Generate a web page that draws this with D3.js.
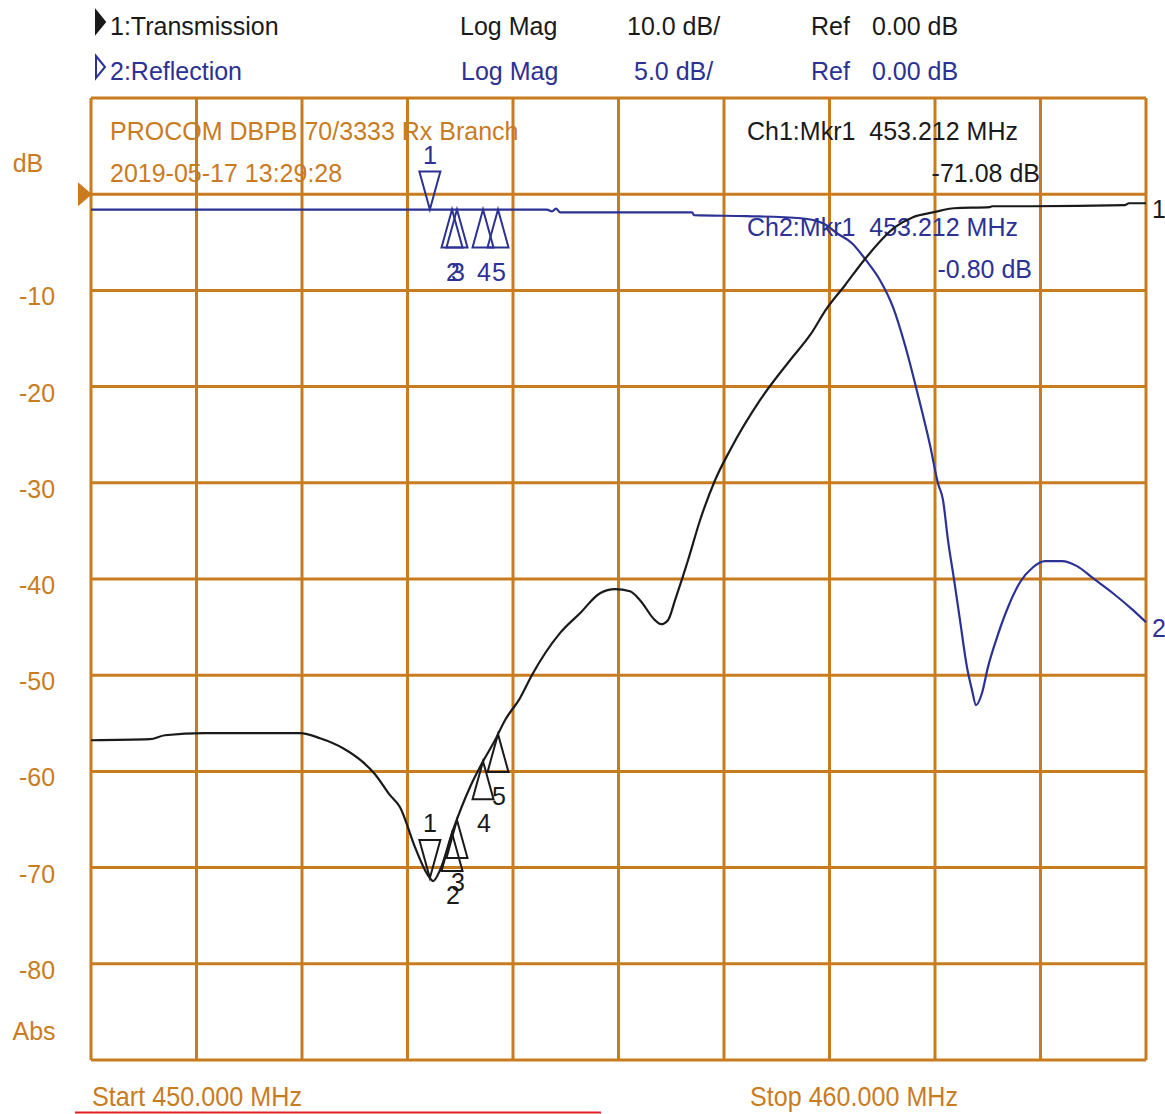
<!DOCTYPE html>
<html>
<head>
<meta charset="utf-8">
<script src="https://cdn.jsdelivr.net/npm/d3@7"></script>
<style>
  html, body { margin: 0; padding: 0; background: #fff; }
  svg text { font-family: "Liberation Sans", Arial, sans-serif; }
</style>
</head>
<body>
<div id="chart"></div>
<script>
// frequency sweep, MHz
const START_FREQ = 450;
const STOP_FREQ = 460;
const freqTicks = d3.range(450, 460.001, 1);

// channel 1: transmission, 10 dB/div, ref 0 dB
const transFreq = [450.000, 450.559, 450.701, 451.081, 451.981, 452.171, 452.389, 452.578, 452.692, 452.834,
  452.929, 453.071, 453.166, 453.212, 453.242, 453.308, 453.431, 453.592, 453.706, 453.829,
  453.924, 454.066, 454.180, 454.445, 454.635, 454.825, 454.967, 455.109, 455.204, 455.346,
  455.403, 455.469, 455.536, 455.602, 455.659, 455.773, 455.915, 456.057, 456.341, 456.626,
  456.815, 456.976, 457.147, 457.327, 457.621, 457.791, 457.991, 458.180, 458.521, 458.540,
  458.919, 459.801, 459.839, 460.000];
const transDb = [-56.76, -56.65, -56.24, -56.03, -56.03, -56.55, -57.59, -59.04, -60.29, -62.47,
  -63.72, -67.88, -70.27, -71.08, -71.40, -70.27, -66.11, -61.64, -59.15, -56.76,
  -54.68, -52.39, -49.98, -45.63, -43.56, -41.48, -41.06, -41.27, -42.20, -44.28,
  -44.70, -44.28, -42.20, -40.02, -38.05, -33.89, -29.73, -26.61, -21.41, -17.26,
  -14.66, -11.85, -9.46, -6.86, -3.43, -2.39, -1.87, -1.46, -1.35, -1.25,
  -1.25, -1.14, -0.94, -0.94];

// channel 2: reflection, 5 dB/div, ref 0 dB
const reflFreq = [450.000, 454.322, 454.370, 454.408, 454.445, 455.697, 455.716, 456.218, 456.730, 456.938,
  457.071, 457.213, 457.346, 457.479, 457.602, 457.716, 457.839, 457.953, 458.028, 458.076,
  458.123, 458.180, 458.237, 458.303, 458.351, 458.389, 458.445, 458.502, 458.588, 458.692,
  458.806, 458.929, 459.043, 459.204, 459.346, 459.498, 459.687, 459.877, 460.000];
const reflDb = [-0.80, -0.80, -0.90, -0.75, -0.94, -0.94, -1.09, -1.14, -1.25, -1.51,
  -2.03, -2.55, -3.43, -4.47, -5.87, -7.85, -10.45, -13.05, -15.02, -15.90,
  -17.98, -20.01, -22.14, -24.58, -25.78, -26.56, -25.94, -24.58, -23.03, -21.47,
  -20.17, -19.39, -19.07, -19.07, -19.33, -19.96, -20.74, -21.62, -22.25];

// markers (same frequencies on both channels)
const markerIds = ["1", "2", "3", "4", "5"];
const markerFreq = [453.212, 453.422, 453.469, 453.716, 453.858];

// y axis labels (channel 1 scale)
const dbTicks = [-10, -20, -30, -40, -50, -60, -70, -80];

const WIDTH = 1165;
const HEIGHT = 1114;
const PLOT = { LEFT: 91, RIGHT: 1146, TOP: 98, BOTTOM: 1060 };
const ORANGE = "#c97c1f";
const BLUE = "#2c3194";
const BLACK = "#1a1a1a";
const TRI_W = 21;
const TRI_H = 38;

const x = d3.scaleLinear().domain([START_FREQ, STOP_FREQ]).range([PLOT.LEFT, PLOT.RIGHT]);
const yTrans = d3.scaleLinear().domain([-90, 10]).range([PLOT.BOTTOM, PLOT.TOP]);
const yRefl = d3.scaleLinear().domain([-45, 5]).range([PLOT.BOTTOM, PLOT.TOP]);

/**
 * Linear read-out of a trace at a given frequency (like the analyser marker)
 */
function readTrace(freqs, values, f) {
  return d3.scaleLinear().domain(freqs).range(values).clamp(true)(f);
}

const svg = d3.select("#chart").append("svg").attr("width", WIDTH).attr("height", HEIGHT);

/**
 * Header lines with the channel setup
 */
function addHeader() {
  const rows = [
    { y: 35, color: BLACK, filled: true, cells: [[110, "1:Transmission"], [460, "Log Mag"], [627, "10.0 dB/"], [811, "Ref"], [872, "0.00 dB"]] },
    { y: 80, color: BLUE, filled: false, cells: [[110, "2:Reflection"], [461, "Log Mag"], [634, "5.0 dB/"], [811, "Ref"], [872, "0.00 dB"]] },
  ];
  rows.forEach((row) => {
    const g = svg.append("g");
    g.append("path")
      .attr("d", `M96,${row.y - 24} L105,${row.y - 13} L96,${row.y - 2} Z`)
      .attr("fill", row.filled ? row.color : "none")
      .attr("stroke", row.color)
      .attr("stroke-width", 2);
    g.selectAll("text")
      .data(row.cells)
      .enter()
      .append("text")
      .attr("x", (d) => d[0])
      .attr("y", row.y)
      .attr("fill", row.color)
      .attr("font-size", 25)
      .text((d) => d[1]);
  });
}

/**
 * Orange graticule, 10 x 10 divisions
 */
function addGraticule() {
  const grid = svg.append("g").attr("stroke", ORANGE).attr("stroke-width", 3);
  grid.selectAll("line.v")
    .data(freqTicks)
    .enter()
    .append("line")
    .attr("class", "v")
    .attr("x1", (d) => x(d))
    .attr("x2", (d) => x(d))
    .attr("y1", PLOT.TOP)
    .attr("y2", PLOT.BOTTOM);
  grid.selectAll("line.h")
    .data(d3.range(-90, 10.001, 10))
    .enter()
    .append("line")
    .attr("class", "h")
    .attr("x1", PLOT.LEFT)
    .attr("x2", PLOT.RIGHT)
    .attr("y1", (d) => yTrans(d))
    .attr("y2", (d) => yTrans(d));

  // reference position arrow
  const yRef = yTrans(0);
  svg.append("path")
    .attr("d", `M78,${yRef - 12} L92,${yRef} L78,${yRef + 12} Z`)
    .attr("fill", ORANGE);

  const labels = svg.append("g").attr("fill", ORANGE).attr("font-size", 25).attr("text-anchor", "middle");
  labels.selectAll("text")
    .data(dbTicks)
    .enter()
    .append("text")
    .attr("x", 37)
    .attr("y", (d) => yTrans(d) + 15)
    .text((d) => d);
  labels.append("text").attr("x", 28).attr("y", 172).text("dB");
  labels.append("text").attr("x", 34).attr("y", 1040).text("Abs");
}

/**
 * Title, time stamp and marker read-outs inside the graticule
 */
function addAnnotations() {
  const notes = [
    [110, 140, "PROCOM DBPB 70/3333 Rx Branch", ORANGE, "start"],
    [110, 182, "2019-05-17 13:29:28", ORANGE, "start"],
    [747, 140, "Ch1:Mkr1  453.212 MHz", BLACK, "start"],
    [1040, 182, readTrace(transFreq, transDb, markerFreq[0]).toFixed(2) + " dB", BLACK, "end"],
    [747, 236, "Ch2:Mkr1  453.212 MHz", BLUE, "start"],
    [1032, 278, readTrace(reflFreq, reflDb, markerFreq[0]).toFixed(2) + " dB", BLUE, "end"],
  ];
  svg.append("g")
    .selectAll("text")
    .data(notes)
    .enter()
    .append("text")
    .attr("x", (d) => d[0])
    .attr("y", (d) => d[1])
    .attr("fill", (d) => d[3])
    .attr("text-anchor", (d) => d[4])
    .attr("font-size", 25)
    .attr("xml:space", "preserve")
    .style("white-space", "pre")
    .text((d) => d[2]);
}

/**
 * One trace with its markers and its end label
 */
function addTrace(freqs, values, yScale, color, traceLabel) {
  const g = svg.append("g");
  const line = d3.line()
    .curve(d3.curveMonotoneX)
    .x((d) => x(d[0]))
    .y((d) => yScale(d[1]));
  g.append("path")
    .datum(d3.zip(freqs, values))
    .attr("d", line)
    .attr("fill", "none")
    .attr("stroke", color)
    .attr("stroke-width", 2.2)
    .attr("stroke-linejoin", "round");

  g.append("text")
    .attr("x", PLOT.RIGHT + 6)
    .attr("y", yScale(values[values.length - 1]) + 15)
    .attr("fill", color)
    .attr("font-size", 25)
    .text(traceLabel);

  const markers = g.selectAll("g.marker")
    .data(d3.zip(markerIds, markerFreq))
    .enter()
    .append("g")
    .attr("class", "marker")
    .attr("transform", (d) => `translate(${x(d[1])}, ${yScale(readTrace(freqs, values, d[1]))})`);

  markers.append("path")
    .attr("d", (d) =>
      d[0] === "1"
        ? `M0,0 L${-TRI_W / 2},${-TRI_H} L${TRI_W / 2},${-TRI_H} Z`
        : `M0,0 L${-TRI_W / 2},${TRI_H} L${TRI_W / 2},${TRI_H} Z`
    )
    .attr("fill", "none")
    .attr("stroke", color)
    .attr("stroke-width", 2);

  markers.append("text")
    .attr("x", (d) => (d[0] === "1" ? 0 : 1))
    .attr("y", (d) => (d[0] === "1" ? -TRI_H - 8 : TRI_H + 33))
    .attr("text-anchor", "middle")
    .attr("fill", color)
    .attr("font-size", 25)
    .text((d) => d[0]);
}

/**
 * Sweep limits under the graticule
 */
function addFooter() {
  const g = svg.append("g").attr("fill", ORANGE).attr("font-size", 28);
  g.append("text")
    .attr("x", 92).attr("y", 1106)
    .attr("textLength", 210).attr("lengthAdjust", "spacingAndGlyphs")
    .text(`Start ${START_FREQ.toFixed(3)} MHz`);
  g.append("text")
    .attr("x", 750).attr("y", 1106)
    .attr("textLength", 208).attr("lengthAdjust", "spacingAndGlyphs")
    .text(`Stop ${STOP_FREQ.toFixed(3)} MHz`);
  svg.append("line")
    .attr("x1", 75).attr("x2", 601)
    .attr("y1", 1112.5).attr("y2", 1112.5)
    .attr("stroke", "#e02020")
    .attr("stroke-width", 2);
}

addHeader();
addGraticule();
addAnnotations();
addTrace(reflFreq, reflDb, yRefl, BLUE, "2");
addTrace(transFreq, transDb, yTrans, BLACK, "1");
addFooter();
</script>
</body>
</html>
